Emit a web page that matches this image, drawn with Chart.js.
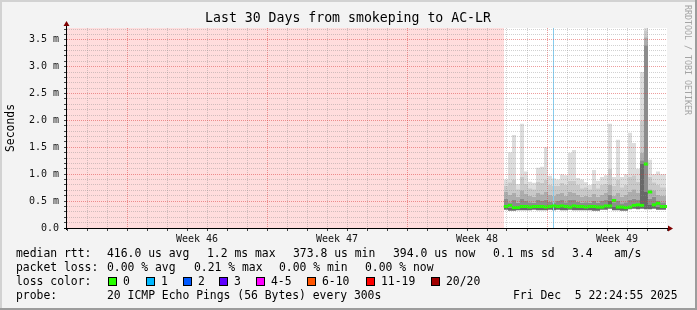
<!DOCTYPE html>
<html>
<head>
<meta charset="utf-8">
<script src="https://cdn.jsdelivr.net/npm/chart.js@4"></script>
<style>
html, body { margin: 0; padding: 0; background: #f3f3f3; }
#wrap { width: 697px; height: 310px; }
</style>
</head>
<body>
<div id="wrap"><canvas id="smoke" width="697" height="310"></canvas></div>
<script>
// ===== values =====
const titleText = 'Last 30 Days from smokeping to AC-LR';
const yAxisTitle = 'Seconds';
const watermark = 'RRDTOOL / TOBI OETIKER';

const rangeDays = 30;
const yMaxMs = 3.72;

const weekStartDays = [3, 10, 17, 24];
const weekTickDays = [6.5, 13.5, 20.5, 27.5];
const weekLabels = ['Week 46', 'Week 47', 'Week 48', 'Week 49'];

// no data before this (drawn pink)
const unknownDays = [0, 21.85];
const blueRuleDay = 24.325;

// sample start days (0 = left edge of graph), values in ms
const sampleDays = [21.85, 22.05, 22.25, 22.45, 22.65, 22.85, 23.05, 23.25, 23.45, 23.65,
  23.85, 24.05, 24.25, 24.45, 24.65, 24.85, 25.05, 25.25, 25.45, 25.65,
  25.85, 26.05, 26.25, 26.45, 26.65, 26.85, 27.05, 27.25, 27.45, 27.65,
  27.85, 28.05, 28.25, 28.45, 28.65, 28.85, 29.05, 29.25, 29.45, 29.65,
  29.85, 29.95];
const pingMin = [0.33, 0.34, 0.32, 0.32, 0.33, 0.33, 0.33, 0.33, 0.34, 0.33,
  0.33, 0.33, 0.34, 0.33, 0.34, 0.33, 0.33, 0.34, 0.33, 0.33,
  0.33, 0.33, 0.33, 0.32, 0.32, 0.34, 0.34, 0.36, 0.33, 0.33,
  0.32, 0.32, 0.35, 0.36, 0.35, 0.36, 0.35, 0.35, 0.36, 0.34,
  0.34, 0.34];
const pingMedian = [0.40, 0.42, 0.38, 0.38, 0.40, 0.40, 0.39, 0.40, 0.40, 0.40,
  0.39, 0.40, 0.41, 0.40, 0.41, 0.40, 0.39, 0.41, 0.40, 0.40,
  0.39, 0.40, 0.40, 0.39, 0.39, 0.41, 0.41, 0.51, 0.39, 0.39,
  0.38, 0.39, 0.42, 0.43, 0.42, 1.19, 0.67, 0.43, 0.46, 0.40,
  0.40, 0.40];
const pingP60 = [0.50, 0.55, 0.48, 0.52, 0.47, 0.54, 0.50, 0.48, 0.47, 0.52,
  0.50, 0.53, 0.49, 0.48, 0.50, 0.52, 0.48, 0.53, 0.52, 0.49,
  0.47, 0.48, 0.47, 0.50, 0.47, 0.50, 0.52, 0.62, 0.48, 0.50,
  0.46, 0.48, 0.53, 0.55, 0.52, 1.26, 3.40, 0.55, 0.58, 0.50,
  0.48, 0.48];
const pingP75 = [0.62, 0.68, 0.62, 0.66, 0.58, 0.70, 0.64, 0.60, 0.58, 0.66,
  0.63, 0.68, 0.62, 0.60, 0.64, 0.66, 0.60, 0.68, 0.66, 0.62,
  0.58, 0.60, 0.58, 0.64, 0.58, 0.62, 0.66, 0.80, 0.60, 0.66,
  0.58, 0.62, 0.68, 0.72, 0.66, 1.40, 3.55, 0.72, 0.70, 0.62,
  0.60, 0.60];
const pingP90 = [0.80, 0.78, 0.85, 0.90, 0.72, 0.95, 0.82, 0.74, 0.72, 0.86,
  0.84, 0.90, 0.80, 0.78, 0.78, 0.84, 0.80, 0.88, 0.88, 0.80,
  0.74, 0.76, 0.72, 0.82, 0.74, 0.80, 0.82, 1.10, 0.78, 0.90,
  0.76, 0.80, 0.95, 0.98, 0.86, 2.00, 3.68, 0.95, 0.85, 0.80,
  0.76, 0.76];
const pingMax = [1.02, 0.90, 1.41, 1.73, 0.82, 1.94, 1.05, 0.86, 0.84, 1.12,
  1.14, 1.50, 0.97, 0.92, 0.90, 1.00, 0.98, 1.40, 1.45, 0.93,
  0.90, 0.85, 0.80, 1.08, 0.88, 0.95, 0.98, 1.94, 0.95, 1.64,
  0.95, 1.00, 1.77, 1.58, 1.10, 2.90, 3.72, 1.27, 1.00, 1.05,
  1.00, 1.00];

// legend texts
const rttLegend = ['median rtt:', '416.0 us avg', '1.2 ms max', '373.8 us min', '394.0 us now', '0.1 ms sd', '3.4', 'am/s'];
const lossLegend = ['packet loss:', '0.00 % avg', '0.21 % max', '0.00 % min', '0.00 % now'];
const lossColorTitle = 'loss color:';
const lossLabels = ['0', '1', '2', '3', '4-5', '6-10', '11-19', '20/20'];
const lossColors = ['#26ff00', '#00b8ff', '#0059ff', '#5e00ff', '#ff00ff', '#ff5500', '#ff0000', '#a10000'];
const probeLegend = ['probe:', '20 ICMP Echo Pings (56 Bytes) every 300s', 'Fri Dec  5 22:24:55 2025'];

// ===== helpers =====
const MONO = '"DejaVu Sans Mono", monospace';
const majorGrid = 'rgba(220, 60, 60, 0.5)';
const minorGrid = 'rgba(140, 140, 140, 0.4)';

function pts(arr) {
  return sampleDays.map((d, i) => ({ x: d, y: arr[i] }));
}

// median drawn as short blocks in the middle of each sample, like smokeping
function medianBlocks() {
  return sampleDays.slice(0, -1).map((d, i) => ({ x: (d + sampleDays[i + 1]) / 2, y: pingMedian[i] }));
}

function isHalf(v) {
  return Math.abs(v * 2 - Math.round(v * 2)) < 1e-6;
}

function band(data, color) {
  return {
    data: pts(data),
    borderColor: 'transparent',
    borderWidth: 0,
    backgroundColor: color,
    fill: '-1',
    stepped: 'after',
    pointRadius: 0,
  };
}

const rrdDecor = {
  id: 'rrdDecor',
  beforeDraw(chart) {
    const { ctx, chartArea: a, width, height } = chart;
    ctx.save();
    ctx.fillStyle = '#f3f3f3';
    ctx.fillRect(0, 0, width, height);
    ctx.fillStyle = '#d2d2d2';
    ctx.fillRect(0, 0, width, 2);
    ctx.fillRect(0, 0, 2, height);
    ctx.fillStyle = '#9c9c9c';
    ctx.fillRect(0, height - 2, width, 2);
    ctx.fillRect(width - 2, 0, 2, height);
    ctx.fillStyle = '#ffffff';
    ctx.fillRect(a.left, a.top, a.right - a.left, a.bottom - a.top);
    ctx.restore();
  },
  afterDraw(chart) {
    const { ctx, chartArea: a } = chart;
    ctx.save();

    // axes + arrows
    ctx.strokeStyle = '#000';
    ctx.lineWidth = 1;
    ctx.beginPath();
    ctx.moveTo(a.left - 0.5, a.bottom + 2);
    ctx.lineTo(a.left - 0.5, a.top - 3);
    ctx.moveTo(a.left - 3, a.bottom + 0.5);
    ctx.lineTo(a.right + 2, a.bottom + 0.5);
    ctx.stroke();
    ctx.fillStyle = '#7f0000';
    ctx.beginPath();
    ctx.moveTo(a.left - 0.5, a.top - 7);
    ctx.lineTo(a.left - 3.5, a.top - 2);
    ctx.lineTo(a.left + 2.5, a.top - 2);
    ctx.closePath();
    ctx.fill();
    ctx.beginPath();
    ctx.moveTo(a.right + 6, a.bottom + 0.5);
    ctx.lineTo(a.right + 1, a.bottom - 2.5);
    ctx.lineTo(a.right + 1, a.bottom + 3.5);
    ctx.closePath();
    ctx.fill();

    // title
    ctx.fillStyle = '#000';
    ctx.font = '13.2px ' + MONO;
    ctx.textAlign = 'center';
    ctx.textBaseline = 'middle';
    ctx.fillText(titleText, 348, 19);

    // y axis title
    ctx.font = '11.4px ' + MONO;
    ctx.save();
    ctx.translate(11, 128);
    ctx.rotate(-Math.PI / 2);
    ctx.fillText(yAxisTitle, 0, 0);
    ctx.restore();

    // watermark
    ctx.save();
    ctx.fillStyle = '#a4a4a4';
    ctx.font = '8.3px ' + MONO;
    ctx.translate(687, 60);
    ctx.rotate(Math.PI / 2);
    ctx.fillText(watermark, 0, 0);
    ctx.restore();

    // legend
    ctx.textAlign = 'left';
    ctx.fillStyle = '#000';
    ctx.font = '11.4px ' + MONO;
    const rttX = [16, 107, 207, 293, 393, 493, 572, 614];
    rttLegend.forEach((t, i) => ctx.fillText(t, rttX[i], 254));
    const lossX = [16, 107, 194, 279, 365];
    lossLegend.forEach((t, i) => ctx.fillText(t, lossX[i], 268));
    ctx.fillText(lossColorTitle, 16, 282);
    const boxX = [108, 146, 183, 219, 256, 307, 366, 431];
    lossLabels.forEach((t, i) => {
      ctx.fillStyle = lossColors[i];
      ctx.fillRect(boxX[i] + 0.5, 277.5, 8, 8);
      ctx.strokeStyle = '#000';
      ctx.strokeRect(boxX[i] + 0.5, 277.5, 8, 8);
      ctx.fillStyle = '#000';
      ctx.fillText(t, boxX[i] + 15, 282);
    });
    const probeX = [16, 107, 513];
    probeLegend.forEach((t, i) => ctx.fillText(t, probeX[i], 296));

    ctx.restore();
  },
};

Chart.defaults.font.family = MONO;
Chart.defaults.color = '#222';

new Chart(document.getElementById('smoke'), {
  type: 'line',
  data: {
    datasets: [
      {
        // unknown data area
        data: unknownDays.map(d => ({ x: d, y: yMaxMs })),
        borderColor: 'transparent',
        borderWidth: 0,
        backgroundColor: '#ffdddd',
        fill: 'origin',
        pointRadius: 0,
      },
      {
        data: pts(pingMin),
        borderColor: 'transparent',
        borderWidth: 0,
        fill: false,
        stepped: 'after',
        pointRadius: 0,
      },
      band(pingMedian, '#686868'),
      band(pingP60, '#8c8c8c'),
      band(pingP75, '#adadad'),
      band(pingP90, '#c9c9c9'),
      band(pingMax, '#dddddd'),
      {
        data: medianBlocks(),
        showLine: false,
        fill: false,
        pointStyle: 'line',
        pointRadius: 2.2,
        pointBorderWidth: 3,
        pointBorderColor: '#26ff00',
        order: -2,
      },
      {
        data: [{ x: blueRuleDay, y: 0 }, { x: blueRuleDay, y: yMaxMs }],
        borderColor: '#86cdef',
        borderWidth: 1,
        fill: false,
        pointRadius: 0,
        order: -1,
      },
    ],
  },
  options: {
    responsive: false,
    animation: false,
    events: [],
    layout: { padding: { left: 0, top: 28, right: 30, bottom: 62 } },
    plugins: { legend: { display: false }, tooltip: { enabled: false }, title: { display: false } },
    scales: {
      x: {
        type: 'linear',
        position: 'bottom',
        weight: 0,
        min: 0,
        max: rangeDays,
        afterFit: (s) => { s.height = 4; },
        ticks: { stepSize: 1, display: false, autoSkip: false, includeBounds: false },
        border: { display: false, dash: [1, 1] },
        grid: {
          z: 1,
          tickLength: 3,
          tickColor: '#444',
          color: (c) => {
            const v = c.tick ? c.tick.value : 0;
            if (v <= 0 || v >= rangeDays) return 'transparent';
            return weekStartDays.includes(v) ? majorGrid : minorGrid;
          },
        },
      },
      x2: {
        type: 'linear',
        position: 'bottom',
        weight: 1,
        min: 0,
        max: rangeDays,
        afterFit: (s) => { s.height = 16; },
        afterBuildTicks: (s) => { s.ticks = weekTickDays.map(v => ({ value: v })); },
        ticks: {
          autoSkip: false,
          maxRotation: 0,
          padding: 1,
          color: '#111',
          font: { size: 10 },
          callback: (v) => weekLabels[weekTickDays.indexOf(v)],
        },
        border: { display: false },
        grid: { display: false, drawTicks: false },
      },
      y: {
        type: 'linear',
        min: 0,
        max: yMaxMs,
        afterFit: (s) => { s.width = 67; },
        ticks: {
          stepSize: 0.1,
          autoSkip: false,
          includeBounds: false,
          padding: 5,
          color: '#111',
          font: { size: 10 },
          callback: (v) => isHalf(v) ? (v === 0 ? '0.0' : v.toFixed(1) + ' m') : '',
        },
        border: { display: false, dash: [1, 1] },
        grid: {
          z: 1,
          tickLength: 3,
          tickColor: '#444',
          color: (c) => {
            const v = c.tick ? c.tick.value : 0;
            if (v <= 0) return 'transparent';
            return isHalf(v) ? majorGrid : minorGrid;
          },
        },
      },
    },
  },
  plugins: [rrdDecor],
});
</script>
</body>
</html>
